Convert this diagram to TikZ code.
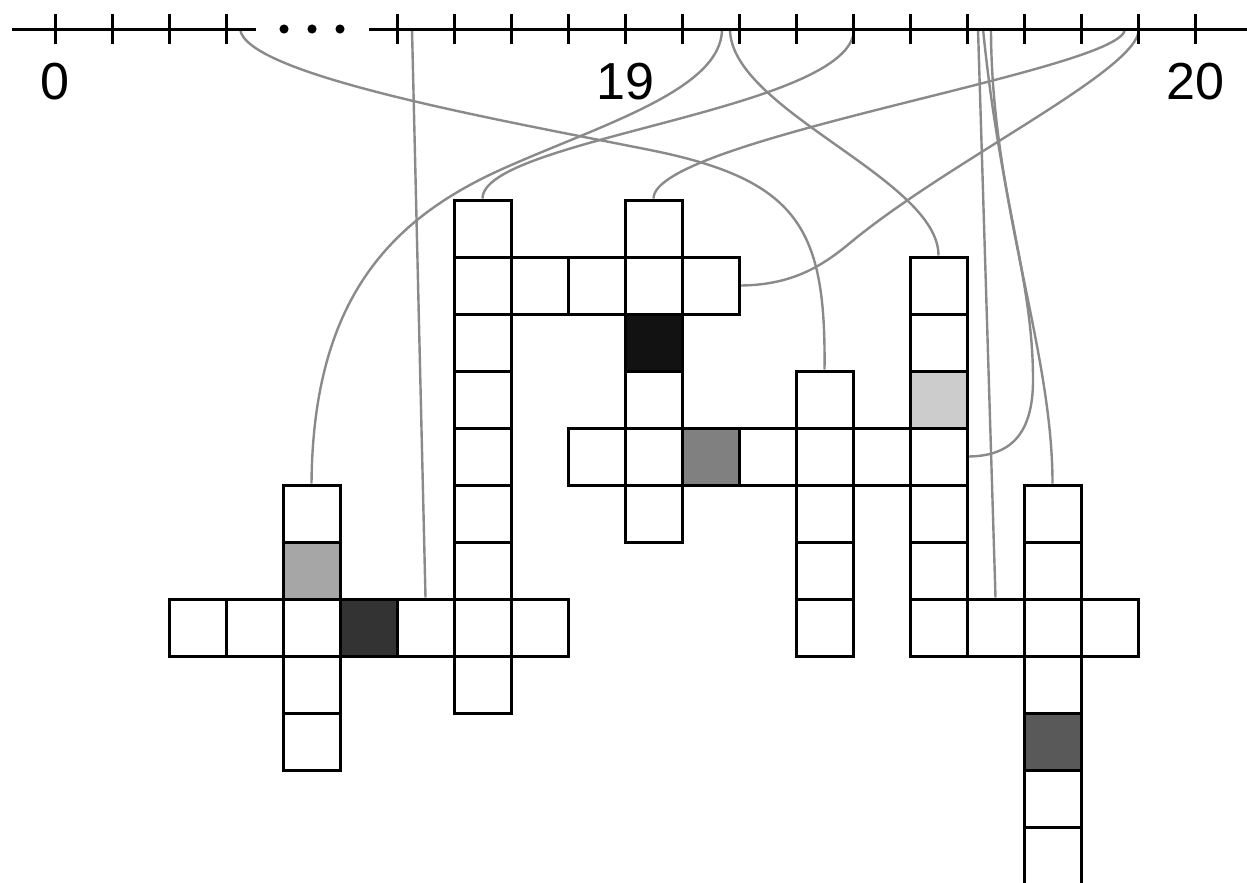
\documentclass[tikz,border=0pt]{standalone}
\usepackage{fontspec}
\setmainfont{Liberation Sans}
\usetikzlibrary{backgrounds}
\definecolor{linkgray}{RGB}{138,138,138}

\begin{document}
\begin{tikzpicture}[
cell/.style={rectangle, draw=black, line width=1.5pt, fill=white, minimum size=1cm, inner sep=0pt},
link/.style={draw=linkgray, line width=1.2pt},
axis/.style={line width=1.5pt},
num/.style={font=\fontsize{26}{30}\selectfont}
]
\useasboundingbox (-0.965,-14.965) rectangle (20.912,0.509);
\draw[axis] (-0.754,0) -- (3.526,0);
\draw[axis] (5.509,0) -- (20.912,0);
\foreach \x in {0,1,2,3,6,7,...,20}
  \draw[axis] (\x,0.263) -- (\x,-0.263);
\foreach \x in {4.018,4.509,5}
  \fill (\x,0) circle (0.08);
\node[num] (n0) at (0,-0.92) {0};
\node[num] (n19) at (10,-0.92) {19};
\node[num] (n20) at (20,-0.92) {20};
\coordinate (s1) at (3.246,0);
\coordinate (s2) at (6.263,0);
\coordinate (s3) at (11.702,0);
\coordinate (s4) at (11.842,0);
\coordinate (s5) at (14.018,0);
\coordinate (s6) at (16.193,0);
\coordinate (s7) at (16.281,0);
\coordinate (s8) at (16.421,0);
\coordinate (s9) at (18.772,0);
\coordinate (s10) at (19.018,0);
\foreach \t in {3,...,11} \node[cell] (c7-\t) at (7.5,-\t-0.5) {};
\foreach \k in {7,...,11} \node[cell] (c\k-4) at (\k+0.5,-4.5) {};
\foreach \t in {3,...,8} \node[cell] (c10-\t) at (10.5,-\t-0.5) {};
\foreach \k in {9,...,15} \node[cell] (c\k-7) at (\k+0.5,-7.5) {};
\foreach \t in {6,...,10} \node[cell] (c13-\t) at (13.5,-\t-0.5) {};
\foreach \t in {4,...,10} \node[cell] (c15-\t) at (15.5,-\t-0.5) {};
\foreach \t in {8,...,12} \node[cell] (c4-\t) at (4.5,-\t-0.5) {};
\foreach \k in {2,...,8} \node[cell] (c\k-10) at (\k+0.5,-10.5) {};
\foreach \k in {15,...,18} \node[cell] (c\k-10) at (\k+0.5,-10.5) {};
\foreach \t in {8,...,14} \node[cell] (c17-\t) at (17.5,-\t-0.5) {};
\node[cell, fill=black!35] (c4-9) at (4.5,-9.5) {};
\node[cell, fill=black!80] (c5-10) at (5.5,-10.5) {};
\node[cell, fill=black!93] (c10-5) at (10.5,-5.5) {};
\node[cell, fill=black!50] (c11-7) at (11.5,-7.5) {};
\node[cell, fill=black!20] (c15-6) at (15.5,-6.5) {};
\node[cell, fill=black!65] (c17-12) at (17.5,-12.5) {};
\begin{scope}[on background layer]
\draw[link] (s1) .. controls (3.333,-0.807) and (7.807,-1.596) .. (10.439,-2.123) .. controls (13.070,-2.649) and (13.526,-3.526) .. (c13-6.north);
\draw[link] (s2) -- (c6-10.north);
\draw[link] (s3) .. controls (11.702,-1.070) and (9.561,-1.684) .. (7.807,-2.474) .. controls (5.877,-3.351) and (4.526,-4.754) .. (c4-8.north);
\draw[link] (s4) .. controls +(0,-1.42) and +(0,1.35) .. (c15-4.north);
\draw[link] (s5) .. controls +(0,-1.42) and +(0,1.05) .. (c7-3.north);
\draw[link] (s6) -- (c16-10.north);
\draw[link] (s7) .. controls (16.579,-3.0) and (17.158,-4.404) .. (17.158,-6.158) .. controls (17.158,-7.211) and (16.667,-7.491) .. (c15-7.east);
\draw[link] (s8) .. controls +(0,-3.0) and +(0,2.37) .. (c17-8.north);
\draw[link] (s9) .. controls +(0,-0.72) and +(0,1.05) .. (c10-3.north);
\draw[link] (s10) .. controls (19.018,-0.719) and (15.702,-2.298) .. (13.947,-3.754) .. controls (13.421,-4.193) and (12.895,-4.491) .. (c11-4.east);
\end{scope}
\end{tikzpicture}
\end{document}
